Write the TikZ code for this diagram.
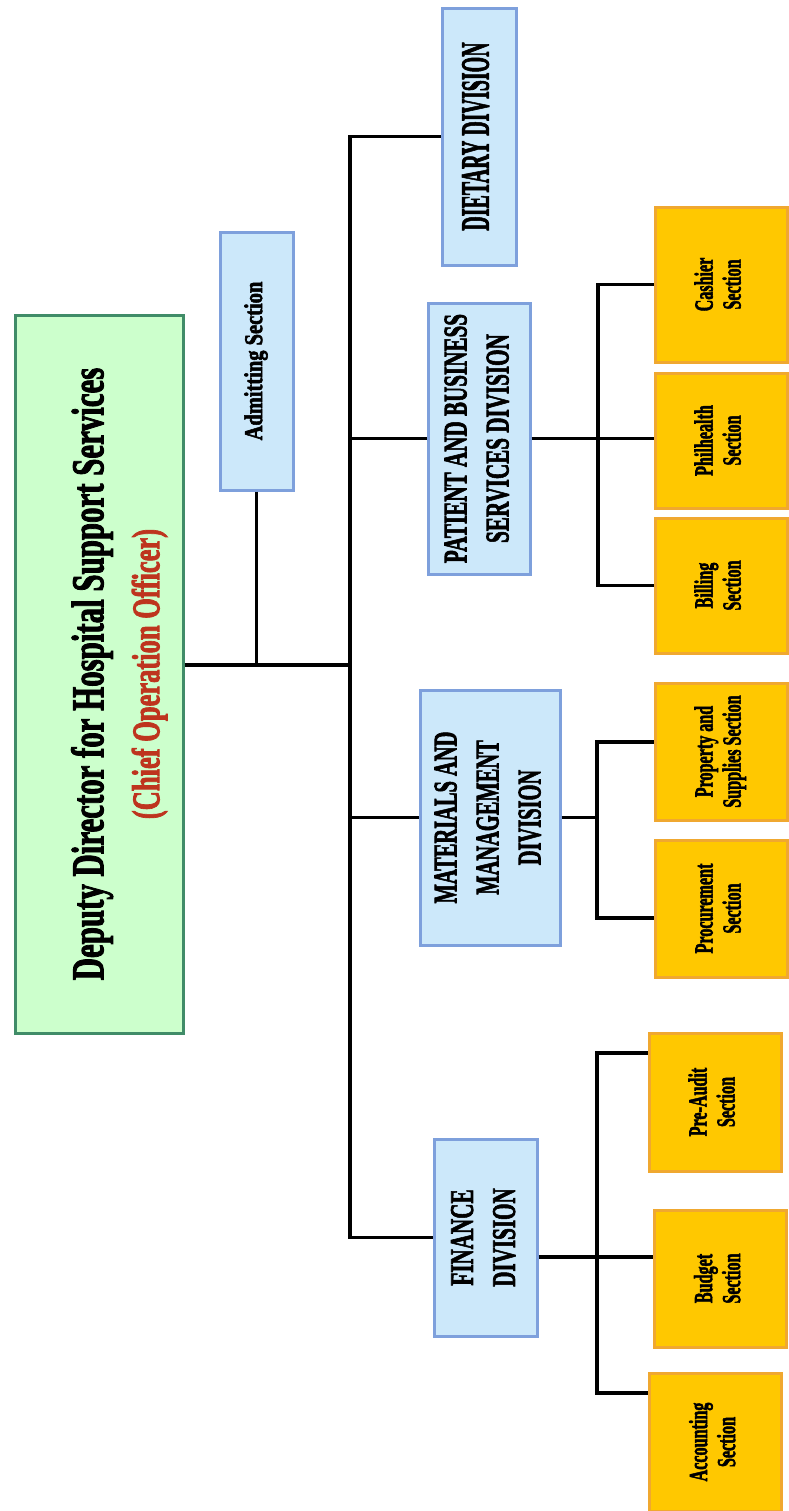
\documentclass[tikz,border=0pt]{standalone}
\usepackage{fontspec}
\setmainfont{Liberation Serif}[BoldFeatures={FakeBold=2.5}]
\usepackage{graphicx}
\usetikzlibrary{positioning}
\definecolor{chiefgreen}{RGB}{204,255,204}
\definecolor{chiefline}{RGB}{64,140,104}
\definecolor{divblue}{RGB}{204,232,250}
\definecolor{divline}{RGB}{126,160,220}
\definecolor{secgold}{RGB}{255,200,0}
\definecolor{secline}{RGB}{240,168,48}
\definecolor{cooRed}{RGB}{190,52,30}
\newcommand{\vtext}[2]{\rotatebox{90}{\scalebox{#1}[1]{\begin{tabular}{@{}c@{}}#2\end{tabular}}}}

\begin{document}
\begin{tikzpicture}[x=0.5pt,y=-0.5pt,line width=1.7pt,
		chief/.style={rectangle,draw=chiefline,fill=chiefgreen,line width=1.5pt,inner sep=0pt,
			minimum width=84pt,minimum height=359pt,font=\fontsize{22.7}{28}\selectfont\bfseries},
		divbox/.style={rectangle,draw=divline,fill=divblue,line width=1.5pt,inner sep=0pt,
			font=\fontsize{16.5}{21}\selectfont\bfseries},
		secbox/.style={rectangle,draw=secline,fill=secgold,line width=1.5pt,inner sep=0pt,
			minimum width=66pt,font=\fontsize{13}{14}\selectfont\bfseries}]

		\useasboundingbox (0,0) rectangle (788,1511);

		\node[chief] (ddhss) at (99,674) {\hspace*{21pt}\vtext{0.68}{Deputy Director for Hospital Support Services\\ \fontsize{19.5}{28}\selectfont\color{cooRed}(Chief Operation Officer)}};
		\node[divbox,minimum width=36.5pt,minimum height=129pt,font=\fontsize{12.8}{14}\selectfont\bfseries] (admit) at (256.5,361) {\vtext{0.8}{Admitting Section}};

		\node[divbox,minimum width=37pt,minimum height=128.5pt,font=\fontsize{20}{24}\selectfont\bfseries] (diet) at (479,136.5) {\vtext{0.5}{DIETARY DIVISION}};
		\node[divbox,minimum width=51pt,minimum height=135.5pt] (pbsd) [below of=diet, node distance=151pt] {\vtext{0.64}{PATIENT AND BUSINESS\\SERVICES DIVISION}};
		\node[divbox,minimum width=70pt,minimum height=127.5pt] (mmd) at (490,817.5) {\vtext{0.62}{MATERIALS AND\\MANAGEMENT\\DIVISION}};
		\node[divbox,minimum width=51.5pt,minimum height=98.5pt] (fin) at (485.5,1237.5) {\vtext{0.64}{FINANCE\\DIVISION}};

		\node[secbox,minimum height=77.5pt] (cash) at (721,284.5) {\vtext{0.62}{Cashier\\Section}};
		\node[secbox,minimum height=67.5pt] (phil) [below of=cash, node distance=78pt] {\vtext{0.62}{Philhealth\\Section}};
		\node[secbox,minimum height=67.5pt] (bill) [below of=phil, node distance=72.5pt] {\vtext{0.62}{Billing\\Section}};
		\node[secbox,minimum height=68.5pt] (prop) at (721,751.5) {\vtext{0.62}{Property and\\Supplies Section}};
		\node[secbox,minimum height=68.5pt] (proc) [below of=prop, node distance=78.5pt] {\vtext{0.62}{Procurement\\Section}};
		\node[secbox,minimum height=69pt] (pre) at (715,1102) {\vtext{0.62}{Pre-Audit\\Section}};
		\node[secbox,minimum height=68.5pt] (bud) at (720.5,1278.5) {\vtext{0.62}{Budget\\Section}};
		\node[secbox,minimum height=69pt] (acc) at (715.5,1442) {\vtext{0.62}{Accounting\\Section}};

		\coordinate (hub) at (350,665);
		\coordinate (psub) at (598,440);
		\coordinate (mprop) at (597,742);
		\coordinate (mproc) at (597,918);
		\coordinate (fsub) at (597,1257);
		\coordinate (fpre) at (597,1053);
		\coordinate (facc) at (597,1393);

		\draw (ddhss.east |- hub) -- (hub);
		\draw (admit.south) -- (admit.south |- hub);
		\draw (diet.west) -| (hub) |- (fin.west);
		\draw (pbsd.west) -- (pbsd.west -| hub);
		\draw (mmd.west) -- (mmd.west -| hub);

		\draw (pbsd.east) -- (pbsd.east -| phil.west);
		\draw (cash.west) -| (psub) |- (bill.west);
		\draw (mmd.east) -- (mmd.east -| mprop);
		\draw (mprop -| prop.west) -- (mprop) -- (mproc) -- (mproc -| proc.west);
		\draw (fsub -| fin.east) -- (fsub -| bud.west);
		\draw (fpre -| pre.west) -- (fpre) -- (facc) -- (facc -| acc.west);

	\end{tikzpicture}
\end{document}
